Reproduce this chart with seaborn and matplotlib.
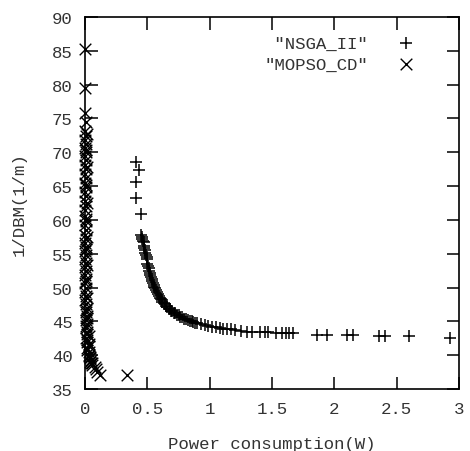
import matplotlib
matplotlib.use("Agg")
import matplotlib.pyplot as plt
import seaborn as sns
import pandas as pd

# NSGA_II front
nsga_x = [0.41, 0.43, 0.41, 0.41, 0.45,
          0.45, 0.455, 0.46, 0.465, 0.47, 0.47, 0.475, 0.48, 0.485, 0.49,
          0.495, 0.50, 0.50, 0.505, 0.51, 0.515, 0.52, 0.525, 0.53, 0.535,
          0.54, 0.545, 0.55, 0.555, 0.56, 0.57, 0.58, 0.585, 0.59, 0.60,
          0.61, 0.615, 0.62, 0.63, 0.64, 0.65, 0.66, 0.67, 0.68, 0.69,
          0.70, 0.71, 0.72, 0.735, 0.75, 0.765, 0.78, 0.795, 0.81, 0.825,
          0.84, 0.855, 0.87, 0.885, 0.90, 0.93, 0.96, 0.99, 1.02, 1.05,
          1.08, 1.11, 1.14, 1.17, 1.20, 1.25, 1.30, 1.34, 1.40, 1.44,
          1.47, 1.53, 1.58, 1.61, 1.64, 1.67,
          1.86, 1.94, 2.10, 2.15, 2.36, 2.41, 2.60, 2.93]
nsga_y = [68.6, 67.4, 65.6, 63.2, 60.9,
          57.8, 57.5, 57.2, 56.9, 56.7, 56.1, 55.8, 55.5, 55.1, 54.8,
          54.5, 54.2, 53.5, 53.2, 52.9, 52.5, 52.2, 51.9, 51.6, 51.3,
          51.0, 50.7, 50.4, 50.1, 49.9, 49.6, 49.3, 49.0, 48.8, 48.5,
          48.3, 48.1, 47.9, 47.7, 47.5, 47.3, 47.1, 46.9, 46.8, 46.6,
          46.5, 46.3, 46.2, 46.0, 45.9, 45.7, 45.6, 45.4, 45.3, 45.2,
          45.1, 45.0, 44.9, 44.8, 44.7, 44.6, 44.5, 44.3, 44.2, 44.1,
          44.0, 43.9, 43.8, 43.8, 43.7, 43.6, 43.5, 43.5, 43.4, 43.4,
          43.4, 43.3, 43.3, 43.3, 43.3, 43.3,
          43.0, 43.0, 43.0, 43.0, 42.9, 42.9, 42.8, 42.6]

# MOPSO_CD front
mopso_x = [0.00, 0.00, 0.00, 0.01, 0.00, 0.01, 0.00, 0.01, 0.00, 0.01,
           0.00, 0.01, 0.00, 0.01, 0.00, 0.01, 0.00, 0.01, 0.00, 0.01,
           0.00, 0.01, 0.00, 0.00, 0.01, 0.00, 0.01, 0.00, 0.01, 0.00,
           0.01, 0.00, 0.01, 0.00, 0.01, 0.00, 0.01, 0.00, 0.01, 0.00,
           0.01, 0.00, 0.01, 0.00, 0.01, 0.02, 0.01, 0.02, 0.01, 0.02,
           0.01, 0.02, 0.03, 0.02, 0.03, 0.02, 0.03, 0.04, 0.05, 0.06,
           0.08, 0.09, 0.10, 0.12, 0.34,
           0.02, 0.01, 0.02, 0.01, 0.02, 0.01, 0.02, 0.01, 0.02, 0.01,
           0.02, 0.01, 0.02, 0.01, 0.02, 0.01, 0.02, 0.03, 0.02, 0.03,
           0.04, 0.03, 0.05, 0.04, 0.06]
mopso_y = [85.2, 79.5, 75.8, 74.5, 73.1, 72.4, 71.8, 71.2, 70.6, 70.0,
           69.4, 68.8, 68.1, 67.5, 66.8, 66.2, 65.5, 64.9, 64.2, 63.5,
           62.8, 62.1, 61.4, 60.6, 59.9, 59.2, 58.5, 57.8, 57.2, 56.6,
           56.0, 55.4, 54.8, 54.2, 53.6, 53.0, 52.4, 51.8, 51.2, 50.6,
           50.0, 49.4, 48.8, 48.2, 47.6, 47.0, 46.4, 45.8, 45.2, 44.6,
           44.0, 43.4, 42.8, 42.2, 41.6, 41.0, 40.4, 39.8, 39.3, 38.8,
           38.3, 37.9, 37.5, 37.1, 37.1,
           72.7, 70.3, 67.8, 65.2, 62.5, 60.2, 57.5, 55.7, 53.3, 50.9,
           48.5, 46.7, 45.5, 44.3, 43.1, 42.5, 41.9, 41.3, 40.7, 40.1,
           39.6, 39.9, 38.9, 39.0, 38.6]

x_ticks = [0, 0.5, 1, 1.5, 2, 2.5, 3]
x_tick_labels = ["0", "0.5", "1", "1.5", "2", "2.5", "3"]
y_ticks = [35, 40, 45, 50, 55, 60, 65, 70, 75, 80, 85, 90]

sns.set_theme(style="white")
plt.rcParams["font.family"] = ["Liberation Mono", "DejaVu Sans Mono"]
FS = 12.5
TXT = "#333333"

fig = plt.figure(figsize=(4.70, 4.52), dpi=100)
ax = fig.add_axes([85 / 470, 1 - 390 / 452, 374 / 470, 372 / 452])

df_n = pd.DataFrame({"x": nsga_x, "y": nsga_y})
df_m = pd.DataFrame({"x": mopso_x, "y": mopso_y})

sns.scatterplot(data=df_n, x="x", y="y", marker="+", color="black", s=80,
                linewidth=1.1, ax=ax, label=' "NSGA_II"', clip_on=False, zorder=3)
sns.scatterplot(data=df_m, x="x", y="y", marker="x", color="black", s=70,
                linewidth=1.0, ax=ax, label='"MOPSO_CD"', clip_on=False, zorder=3)

ax.set_xlim(0, 3)
ax.set_ylim(35, 90)
ax.set_xticks(x_ticks)
ax.set_xticklabels(x_tick_labels)
ax.set_yticks(y_ticks)
ax.tick_params(direction="in", length=9, width=1.1, color="black",
               top=True, right=True, bottom=True, left=True,
               labelsize=FS, labelcolor=TXT)
ax.tick_params(axis="y", pad=9)
ax.tick_params(axis="x", pad=9)
for sp in ax.spines.values():
    sp.set_visible(True)
    sp.set_color("black")
    sp.set_linewidth(1.2)
ax.grid(False)

ax.set_xlabel("Power consumption(W)", fontsize=FS, color=TXT, labelpad=14)
ax.set_ylabel("1/DBM(1/m)", fontsize=FS, color=TXT, labelpad=18)

leg = ax.legend(loc="upper right", bbox_to_anchor=(0.905, 0.95),
                frameon=False, markerfirst=False, fontsize=FS,
                handletextpad=1.2, labelspacing=0.35, borderpad=0,
                borderaxespad=0)
for t in leg.get_texts():
    t.set_color(TXT)

fig.savefig("out.png", dpi=100, facecolor="white")
